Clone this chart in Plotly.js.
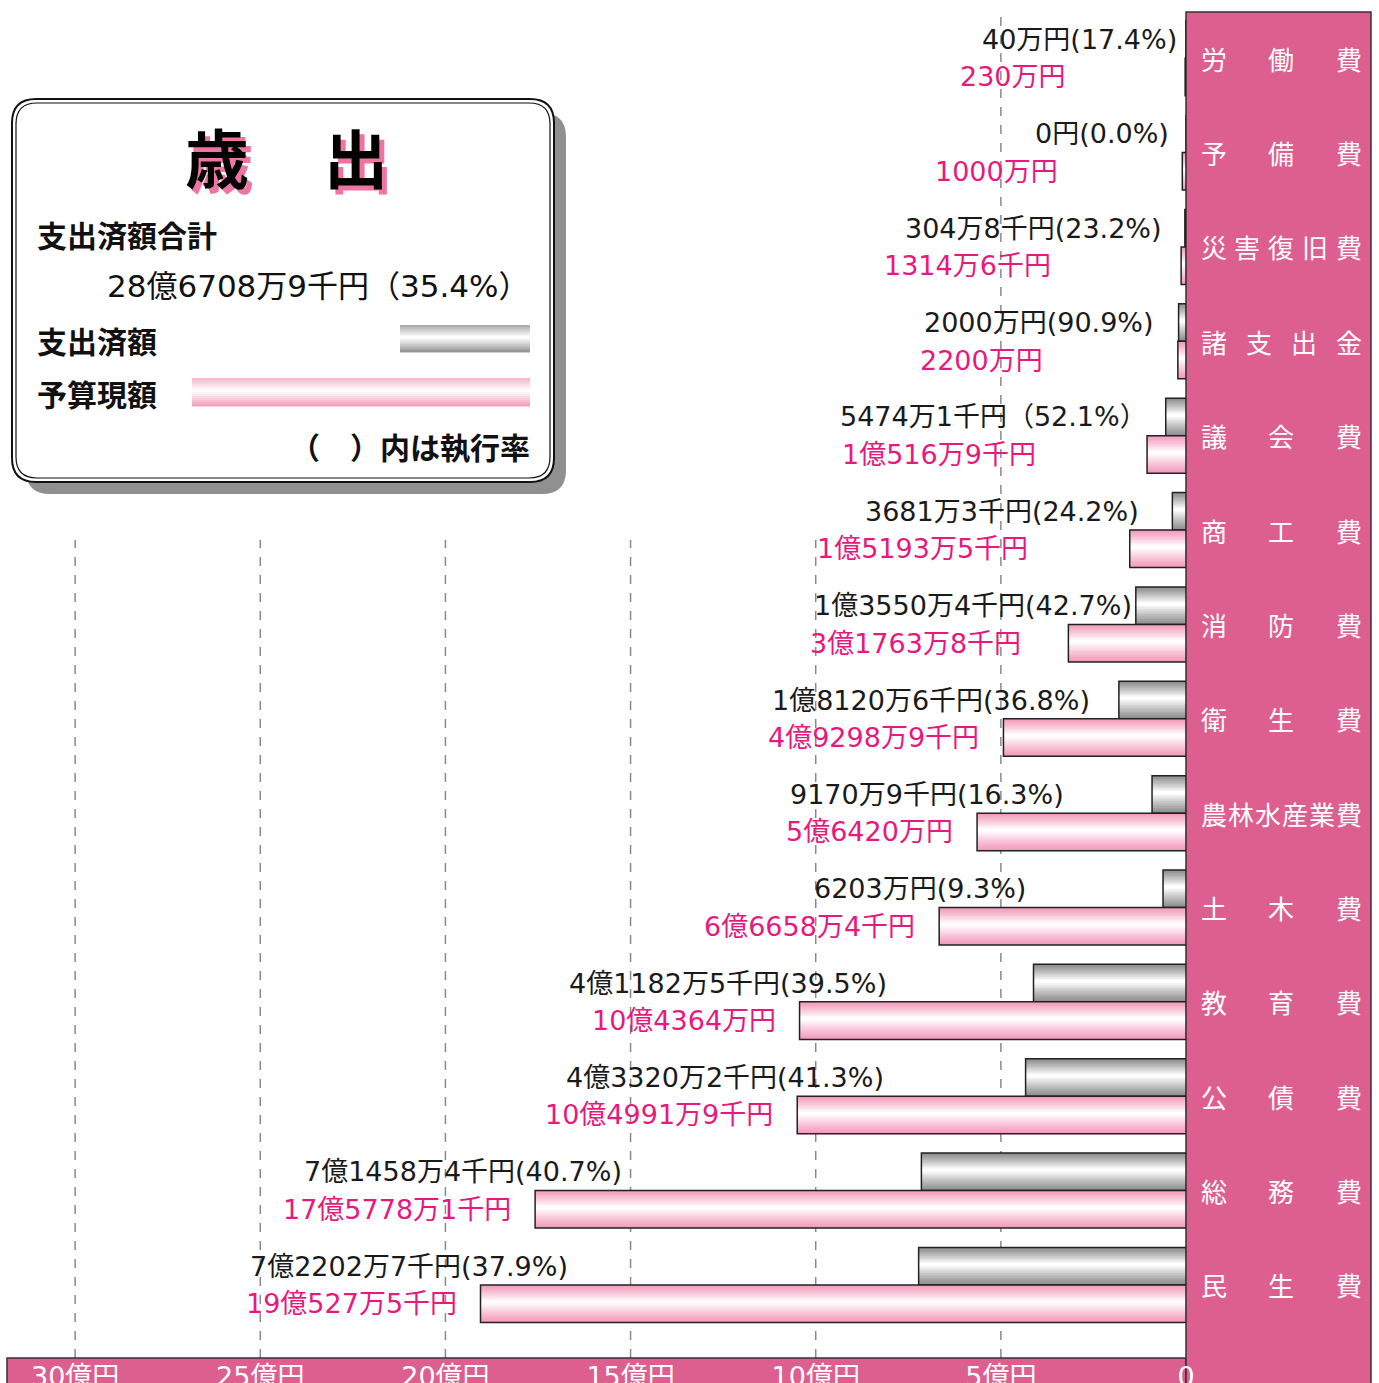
<!DOCTYPE html>
<html>
<head>
<meta charset="utf-8">
<script src="https://cdn.plot.ly/plotly-3.0.1.min.js"></script>
<style>body{margin:0;background:#fff}</style>
</head>
<body>
<div id="chart" style="width:1379px;height:1383px"></div>
<script>
// ---- data (億円) ----
const categories = ['労働費','予備費','災害復旧費','諸支出金','議会費','商工費','消防費','衛生費','農林水産業費','土木費','教育費','公債費','総務費','民生費'];
const spentValues = [0.004, 0, 0.03048, 0.2, 0.54741, 0.36813, 1.35504, 1.81206, 0.91709, 0.6203, 4.11825, 4.33202, 7.14584, 7.22027];
const budgetValues = [0.023, 0.1, 0.13146, 0.22, 1.05169, 1.51935, 3.17638, 4.92989, 5.642, 6.66584, 10.4364, 10.49919, 17.57781, 19.05275];
const spentLabels = ['40万円(17.4%)','0円(0.0%)','304万8千円(23.2%)','2000万円(90.9%)','5474万1千円（52.1%）','3681万3千円(24.2%)','1億3550万4千円(42.7%)','1億8120万6千円(36.8%)','9170万9千円(16.3%)','6203万円(9.3%)','4億1182万5千円(39.5%)','4億3320万2千円(41.3%)','7億1458万4千円(40.7%)','7億2202万7千円(37.9%)'];
const budgetLabels = ['230万円','1000万円','1314万6千円','2200万円','1億516万9千円','1億5193万5千円','3億1763万8千円','4億9298万9千円','5億6420万円','6億6658万4千円','10億4364万円','10億4991万9千円','17億5778万1千円','19億527万5千円'];
const tickValues = [0, 5, 10, 15, 20, 25, 30];
const tickLabels = ['0', '5億円', '10億円', '15億円', '20億円', '25億円', '30億円'];
const legendTitle = ['歳', '出'];
const totalLabel = '支出済額合計';
const totalValue = '28億6708万9千円（35.4%）';
const spentName = '支出済額';
const budgetName = '予算現額';
const rateNote = '（　）内は執行率';

// ---- layout helpers ----
const W = 1379, H = 1383;
const M = {l: 7, r: 193, t: 12, b: 25};
const PW = W - M.l - M.r, PH = H - M.t - M.b;
const px = x => (x - M.l) / PW;
const py = y => (H - M.b - y) / PH;
const CJK = '"Noto Sans CJK JP", sans-serif';
const NUM = '"DejaVu Sans", "Noto Sans CJK JP", sans-serif';
const PINK = '#dd5f8f';

const n = categories.length;
const yPos = categories.map((c, i) => n - 1 - i);
const BW = 0.3975;

function mix(c1, c2, t) {
  const a = [1,3,5].map(k => parseInt(c1.substr(k,2),16));
  const b = [1,3,5].map(k => parseInt(c2.substr(k,2),16));
  return '#' + a.map((v,i) => Math.round(v + (b[i]-v)*t).toString(16).padStart(2,'0')).join('');
}

const traces = [];
function gradientBars(values, baseOff, edge, lightFrac) {
  const N = 12;
  const top = baseOff + BW, bot = baseOff;
  const c = top - lightFrac * BW;
  for (let k = 0; k < N; k++) {
    const f = 1 - k / N;
    const lo = c - f * (c - bot), hi = c + f * (top - c);
    const t = Math.pow(k / (N - 1), 1.1);
    const col = mix(edge, '#ffffff', t);
    traces.push({type: 'bar', orientation: 'h', x: values, y: yPos, offset: lo, width: hi - lo,
      marker: {color: col, line: {width: 0}}, hoverinfo: 'skip'});
  }
  traces.push({type: 'bar', orientation: 'h', x: values, y: yPos, offset: bot, width: BW,
    marker: {color: 'rgba(0,0,0,0)', line: {color: '#222222', width: 1.5}}, hoverinfo: 'skip'});
}
gradientBars(spentValues, 0, '#8f8f8f', 0.45);
gradientBars(budgetValues, -BW, '#f39bbb', 0.45);

// ---- shapes ----
const shapes = [];
tickValues.filter(v => v > 0).forEach(v => {
  shapes.push({type: 'line', xref: 'x', yref: 'paper', x0: v, x1: v, y0: 0, y1: v === 5 ? py(10) : py(540),
    line: {color: '#8a8a8a', width: 1.5, dash: 'dash'}, layer: 'below'});
});
shapes.push({type: 'rect', xref: 'paper', yref: 'paper', x0: 0, x1: 1, y0: py(H + 5), y1: 0,
  fillcolor: PINK, line: {color: '#333', width: 1.5}, layer: 'below'});
shapes.push({type: 'rect', xref: 'paper', yref: 'paper', x0: 1, x1: px(1371), y0: py(H + 5), y1: py(12),
  fillcolor: PINK, line: {color: '#333', width: 1.5}, layer: 'below'});

function rrect(x0, y0, x1, y1, r) {
  const X = px, Y = py;
  return 'M' + X(x0 + r) + ',' + Y(y0) + ' L' + X(x1 - r) + ',' + Y(y0) +
    ' Q' + X(x1) + ',' + Y(y0) + ' ' + X(x1) + ',' + Y(y0 + r) +
    ' L' + X(x1) + ',' + Y(y1 - r) + ' Q' + X(x1) + ',' + Y(y1) + ' ' + X(x1 - r) + ',' + Y(y1) +
    ' L' + X(x0 + r) + ',' + Y(y1) + ' Q' + X(x0) + ',' + Y(y1) + ' ' + X(x0) + ',' + Y(y1 - r) +
    ' L' + X(x0) + ',' + Y(y0 + r) + ' Q' + X(x0) + ',' + Y(y0) + ' ' + X(x0 + r) + ',' + Y(y0) + ' Z';
}
shapes.push({type: 'path', xref: 'paper', yref: 'paper', path: rrect(26, 113, 566, 494, 24), fillcolor: '#909090', line: {width: 0}, layer: 'above'});
shapes.push({type: 'path', xref: 'paper', yref: 'paper', path: rrect(12, 99, 554, 482, 24), fillcolor: '#ffffff', line: {color: '#111', width: 2}, layer: 'above'});
shapes.push({type: 'path', xref: 'paper', yref: 'paper', path: rrect(16, 103, 550, 478, 21), fillcolor: 'rgba(0,0,0,0)', line: {color: '#111', width: 1.2}, layer: 'above'});

function swatch(x0, x1, y0, y1, edge) {
  const N = 14;
  const h = (y1 - y0) / N;
  for (let k = 0; k < N; k++) {
    const mid = (k + 0.5) / N;
    const d = Math.abs(mid - 0.45) / 0.55;
    shapes.push({type: 'rect', xref: 'paper', yref: 'paper', x0: px(x0), x1: px(x1), y0: py(y0 + k * h), y1: py(y0 + (k + 1) * h + 0.5),
      fillcolor: mix('#ffffff', edge, Math.min(1, Math.pow(d, 1.1))), line: {width: 0}, layer: 'above'});
  }
}
swatch(400, 530, 325, 352, '#8f8f8f');
swatch(192, 530, 378, 406, '#f39bbb');

// ---- annotations ----
const ann = [];
const ppu = PW / 31.84;
categories.forEach((cat, i) => {
  const chars = Array.from(cat);
  const cw = 27, left = 1200, span = 162;
  chars.forEach((ch, j) => {
    const cx = left + cw / 2 + (chars.length > 1 ? j * (span - cw) / (chars.length - 1) : 0);
    ann.push({xref: 'paper', yref: 'y', x: px(cx), y: yPos[i], text: ch, showarrow: false,
      font: {family: CJK, size: 26, color: '#ffffff'}, xanchor: 'center', yanchor: 'middle'});
  });
  const pinkX = Math.max(budgetValues[i] + 22 / ppu, 3.2 + 0.2 * i);
  const blackX = pinkX - 111 / ppu;
  ann.push({xref: 'x', yref: 'y', x: blackX, y: yPos[i] + BW / 2, text: spentLabels[i], showarrow: false,
    font: {family: NUM, size: 27, color: '#1a1a1a'}, xanchor: 'right', yanchor: 'middle'});
  ann.push({xref: 'x', yref: 'y', x: pinkX, y: yPos[i] - BW / 2, text: budgetLabels[i], showarrow: false,
    font: {family: NUM, size: 27, color: '#e8197e'}, xanchor: 'right', yanchor: 'middle'});
});

const titleX = [217, 356];
legendTitle.forEach((ch, j) => {
  ann.push({xref: 'paper', yref: 'paper', x: px(titleX[j] + 5), y: py(160), text: '<b>' + ch + '</b>', showarrow: false,
    font: {family: CJK, size: 64, color: '#ef74a4'}, xanchor: 'center', yanchor: 'middle'});
  ann.push({xref: 'paper', yref: 'paper', x: px(titleX[j]), y: py(155), text: '<b>' + ch + '</b>', showarrow: false,
    font: {family: CJK, size: 64, color: '#000000'}, xanchor: 'center', yanchor: 'middle'});
});
ann.push({xref: 'paper', yref: 'paper', x: px(35), y: py(234), text: '<b>' + totalLabel + '</b>', showarrow: false,
  font: {family: CJK, size: 30, color: '#111'}, xanchor: 'left', yanchor: 'middle'});
ann.push({xref: 'paper', yref: 'paper', x: px(532), y: py(286), text: totalValue, showarrow: false,
  font: {family: NUM, size: 31, color: '#111'}, xanchor: 'right', yanchor: 'middle'});
ann.push({xref: 'paper', yref: 'paper', x: px(35), y: py(340), text: '<b>' + spentName + '</b>', showarrow: false,
  font: {family: CJK, size: 30, color: '#111'}, xanchor: 'left', yanchor: 'middle'});
ann.push({xref: 'paper', yref: 'paper', x: px(35), y: py(393), text: '<b>' + budgetName + '</b>', showarrow: false,
  font: {family: CJK, size: 30, color: '#111'}, xanchor: 'left', yanchor: 'middle'});
ann.push({xref: 'paper', yref: 'paper', x: px(532), y: py(446), text: '<b>' + rateNote + '</b>', showarrow: false,
  font: {family: CJK, size: 30, color: '#111'}, xanchor: 'right', yanchor: 'middle'});

const layout = {
  width: W, height: H,
  margin: M,
  paper_bgcolor: '#ffffff',
  plot_bgcolor: 'rgba(0,0,0,0)',
  showlegend: false,
  barmode: 'overlay',
  xaxis: {range: [31.84, 0], tickvals: tickValues, ticktext: tickLabels, ticks: '',
    tickfont: {family: NUM, size: 27, color: '#ffffff'}, showgrid: false, zeroline: false, showline: false, fixedrange: true},
  yaxis: {range: [-0.774, 13.49], visible: false, fixedrange: true},
  shapes: shapes,
  annotations: ann
};
Plotly.newPlot('chart', traces, layout, {displayModeBar: false, staticPlot: true});
</script>
</body>
</html>
